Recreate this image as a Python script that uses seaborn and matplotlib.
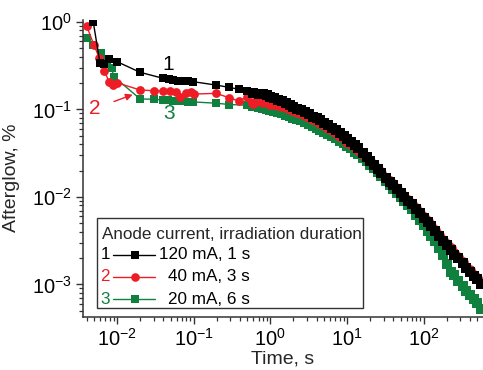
import numpy as np
import pandas as pd
import matplotlib
matplotlib.use("Agg")
import matplotlib.pyplot as plt
import seaborn as sns
from matplotlib.patches import Rectangle
from matplotlib.lines import Line2D

sns.set_theme(style="ticks")
plt.rcParams['font.family'] = ['Liberation Sans', 'DejaVu Sans']
plt.rcParams['mathtext.fontset'] = 'custom'
plt.rcParams['mathtext.rm'] = 'Liberation Sans'

# ---- data ----
black_early_t = [4.9e-3, 6.0e-3, 6.8e-3, 7.9e-3, 0.010, 0.020, 0.040, 0.047, 0.054,
                 0.063, 0.073, 0.085, 0.098, 0.197, 0.29, 0.39, 0.5]
black_early_v = [1.0, 0.337, 0.33, 0.378, 0.352, 0.266, 0.227, 0.221, 0.215,
                 0.212, 0.212, 0.21, 0.208, 0.19, 0.179, 0.17, 0.164]

red_early_t = [4.0e-3, 5.0e-3, 5.9e-3, 6.8e-3, 7.9e-3, 8.9e-3, 0.010, 0.020, 0.030,
               0.040, 0.049, 0.0595, 0.067, 0.080, 0.093, 0.10, 0.197, 0.29, 0.39, 0.5]
red_early_v = [0.91, 0.546, 0.385, 0.275, 0.208, 0.19, 0.202, 0.167, 0.164,
               0.163, 0.163, 0.16, 0.138, 0.153, 0.16, 0.15, 0.153, 0.136, 0.125, 0.14]

green_early_t = [4.0e-3, 4.9e-3, 6.1e-3, 7.3e-3, 8.5e-3, 9.1e-3, 0.020, 0.030, 0.040,
                 0.046, 0.054, 0.063, 0.073, 0.085, 0.098, 0.197, 0.29, 0.49]
green_early_v = [0.66, 0.546, 0.44, 0.36, 0.296, 0.237, 0.132, 0.131, 0.128,
                 0.127, 0.126, 0.125, 0.124, 0.123, 0.122, 0.118, 0.114, 0.112]

tail_t = [0.6, 0.7, 0.8, 0.9, 1.0, 1.12, 1.25, 1.4, 1.6, 1.8, 2.0, 2.25, 2.5, 2.8,
          3.2, 3.6, 4.0, 4.5, 5.0, 5.6, 6.3, 7.1, 8.0, 9.0, 10, 11.2, 12.5, 14, 16,
          18, 20, 22.5, 25, 28, 32, 36, 40, 45, 50, 56, 63, 71, 80, 90, 100, 112,
          125, 140, 160, 180, 200, 225, 250, 280, 320, 360, 400, 450, 500, 560]

black_tail_v = [0.156, 0.152, 0.149, 0.145, 0.140, 0.134, 0.130, 0.125, 0.119, 0.113,
                0.108, 0.102, 0.098, 0.093, 0.088, 0.083, 0.079, 0.075, 0.071, 0.067,
                0.062, 0.058, 0.054, 0.050, 0.046, 0.042, 0.039, 0.036, 0.032, 0.029,
                0.026, 0.0235, 0.021, 0.019, 0.0167, 0.0150, 0.0137, 0.0122, 0.0110,
                0.0100, 0.0090, 0.0083, 0.0073, 0.0065, 0.0058, 0.0052, 0.0046, 0.0041,
                0.0036, 0.0031, 0.0028, 0.0025, 0.0022, 0.0020, 0.00175, 0.00155,
                0.00140, 0.00125, 0.00115, 0.00102]

red_tail_v = [0.118, 0.128, 0.122, 0.124, 0.117, 0.116, 0.113, 0.110, 0.106, 0.102,
              0.098, 0.094, 0.090, 0.086, 0.082, 0.077, 0.074, 0.070, 0.066, 0.062,
              0.058, 0.054, 0.050, 0.047, 0.043, 0.040, 0.037, 0.034, 0.031, 0.028,
              0.0255, 0.023, 0.0208, 0.0188, 0.0167, 0.0151, 0.0138, 0.0124, 0.0111,
              0.0101, 0.0092, 0.0083, 0.0075, 0.0066, 0.0059, 0.0053, 0.0047, 0.0042,
              0.0037, 0.0032, 0.0029, 0.0026, 0.0023, 0.00205, 0.0018, 0.0016,
              0.00145, 0.0013, 0.00118, 0.00105]

green_tail_v = [0.110, 0.108, 0.105, 0.102, 0.099, 0.096, 0.093, 0.090, 0.087, 0.084,
                0.081, 0.078, 0.075, 0.072, 0.068, 0.065, 0.062, 0.059, 0.056, 0.053,
                0.050, 0.047, 0.044, 0.041, 0.038, 0.036, 0.033, 0.031, 0.028, 0.026,
                0.0235, 0.0213, 0.0192, 0.0173, 0.0153, 0.0137, 0.0124, 0.0111, 0.0100,
                0.0090, 0.0080, 0.0072, 0.0063, 0.0055, 0.0048, 0.0041, 0.0036, 0.0031,
                0.0026, 0.0022, 0.0017, 0.0014, 0.0013, 0.0011, 0.00095, 0.00085,
                0.00076, 0.00068, 0.00062, 0.00052]

series_names = ["1", "2", "3"]
legend_labels = ["120 mA, 1 s", "40 mA, 3 s", "20 mA, 6 s"]
colors = {"1": "#000000", "2": "#ee1c25", "3": "#10803f"}
markers = {"1": "s", "2": "o", "3": "s"}
early_size = {"1": 30, "2": 40, "3": 30}
tail_size = {"1": 62, "2": 58, "3": 56}
layer = {"1": 4, "2": 3, "3": 2}

early = {"1": (black_early_t, black_early_v), "2": (red_early_t, red_early_v),
         "3": (green_early_t, green_early_v)}
tails = {"1": black_tail_v, "2": red_tail_v, "3": green_tail_v}

W, H = 483, 370
fig = plt.figure(figsize=(W / 100, H / 100), dpi=100)
ax = fig.add_axes([83 / W, (H - 317) / H, 400 / W, (317 - 20) / H])

for name in ["3", "2", "1"]:
    et, ev = early[name]
    d_early = pd.DataFrame({"t": et, "v": ev})
    d_tail = pd.DataFrame({"t": tail_t, "v": tails[name]})
    d_all = pd.concat([d_early, d_tail], ignore_index=True)
    z = layer[name]
    sns.lineplot(data=d_all, x="t", y="v", ax=ax, color=colors[name], linewidth=1.0,
                 sort=False, estimator=None, legend=False, zorder=z)
    sns.scatterplot(data=d_early, x="t", y="v", ax=ax, color=colors[name],
                    marker=markers[name], s=early_size[name], linewidth=0, legend=False,
                    zorder=z)
    sns.scatterplot(data=d_tail, x="t", y="v", ax=ax, color=colors[name],
                    marker=markers[name], s=tail_size[name], linewidth=0, legend=False,
                    zorder=z)

ax.set_xscale("log")
ax.set_yscale("log")
ax.set_xlim(3.6e-3, 592)
ax.set_ylim(4.25e-4, 1.054)

for s in ["top", "right"]:
    ax.spines[s].set_visible(False)
for s in ["left", "bottom"]:
    ax.spines[s].set_color("#333333")
    ax.spines[s].set_linewidth(1.1)

ax.xaxis.set_major_locator(matplotlib.ticker.LogLocator(base=10, numticks=20))
ax.xaxis.set_minor_locator(matplotlib.ticker.LogLocator(base=10, subs=np.arange(2, 10), numticks=20))
ax.yaxis.set_major_locator(matplotlib.ticker.LogLocator(base=10, numticks=20))
ax.yaxis.set_minor_locator(matplotlib.ticker.LogLocator(base=10, subs=np.arange(2, 10), numticks=20))
ax.tick_params(which="major", direction="out", length=5, width=1.0, color="#333333",
               labelsize=14.5, pad=3, labelcolor="black")
ax.tick_params(which="minor", direction="out", length=3, width=0.9, color="#333333")

ax.set_xlabel("Time, s", fontsize=14, labelpad=0)
ax.set_ylabel("Afterglow, %", fontsize=14, labelpad=4)
ax.yaxis.set_label_coords(-0.158, 0.47)

# curve number annotations
ax.annotate("1", xy=(0.046, 0.33), fontsize=15, color="black", ha="center", va="center")
ax.annotate("3", xy=(0.047, 0.090), fontsize=15, color=colors["3"], ha="center", va="center")
ax.annotate("2", xy=(0.016, 0.148), xytext=(0.0051, 0.102), fontsize=15,
            color=colors["2"], ha="center", va="center",
            arrowprops=dict(arrowstyle="-|>", color=colors["2"], lw=1.0,
                            mutation_scale=10, shrinkA=8, shrinkB=0))

# legend box
ax.add_patch(Rectangle((0.035, 0.030), 0.665, 0.303, transform=ax.transAxes,
                       facecolor="white", edgecolor="#333333", linewidth=1.0, zorder=5))
ax.text(0.0475, 0.279, "Anode current, irradiation duration", transform=ax.transAxes,
        fontsize=12.3, ha="left", va="center", zorder=6)
row_y = [0.209, 0.135, 0.0606]
label_x = [0.19, 0.2125, 0.2125]
for name, lab, yy, lx in zip(series_names, legend_labels, row_y, label_x):
    ax.text(0.055, yy, name, transform=ax.transAxes, fontsize=12.3, color=colors[name],
            ha="center", va="center", zorder=6)
    ax.add_line(Line2D([0.075, 0.18], [yy, yy], transform=ax.transAxes, color=colors[name],
                       linewidth=1.0, zorder=6))
    ax.add_line(Line2D([0.13], [yy], transform=ax.transAxes, color=colors[name],
                       marker=markers[name], markersize=6.2 if markers[name] == "o" else 5.5,
                       markeredgewidth=0, linestyle="none", zorder=7))
    ax.text(lx, yy, lab, transform=ax.transAxes, fontsize=12.3, color="black",
            ha="left", va="center", zorder=6)

fig.savefig("out.png", dpi=100)
